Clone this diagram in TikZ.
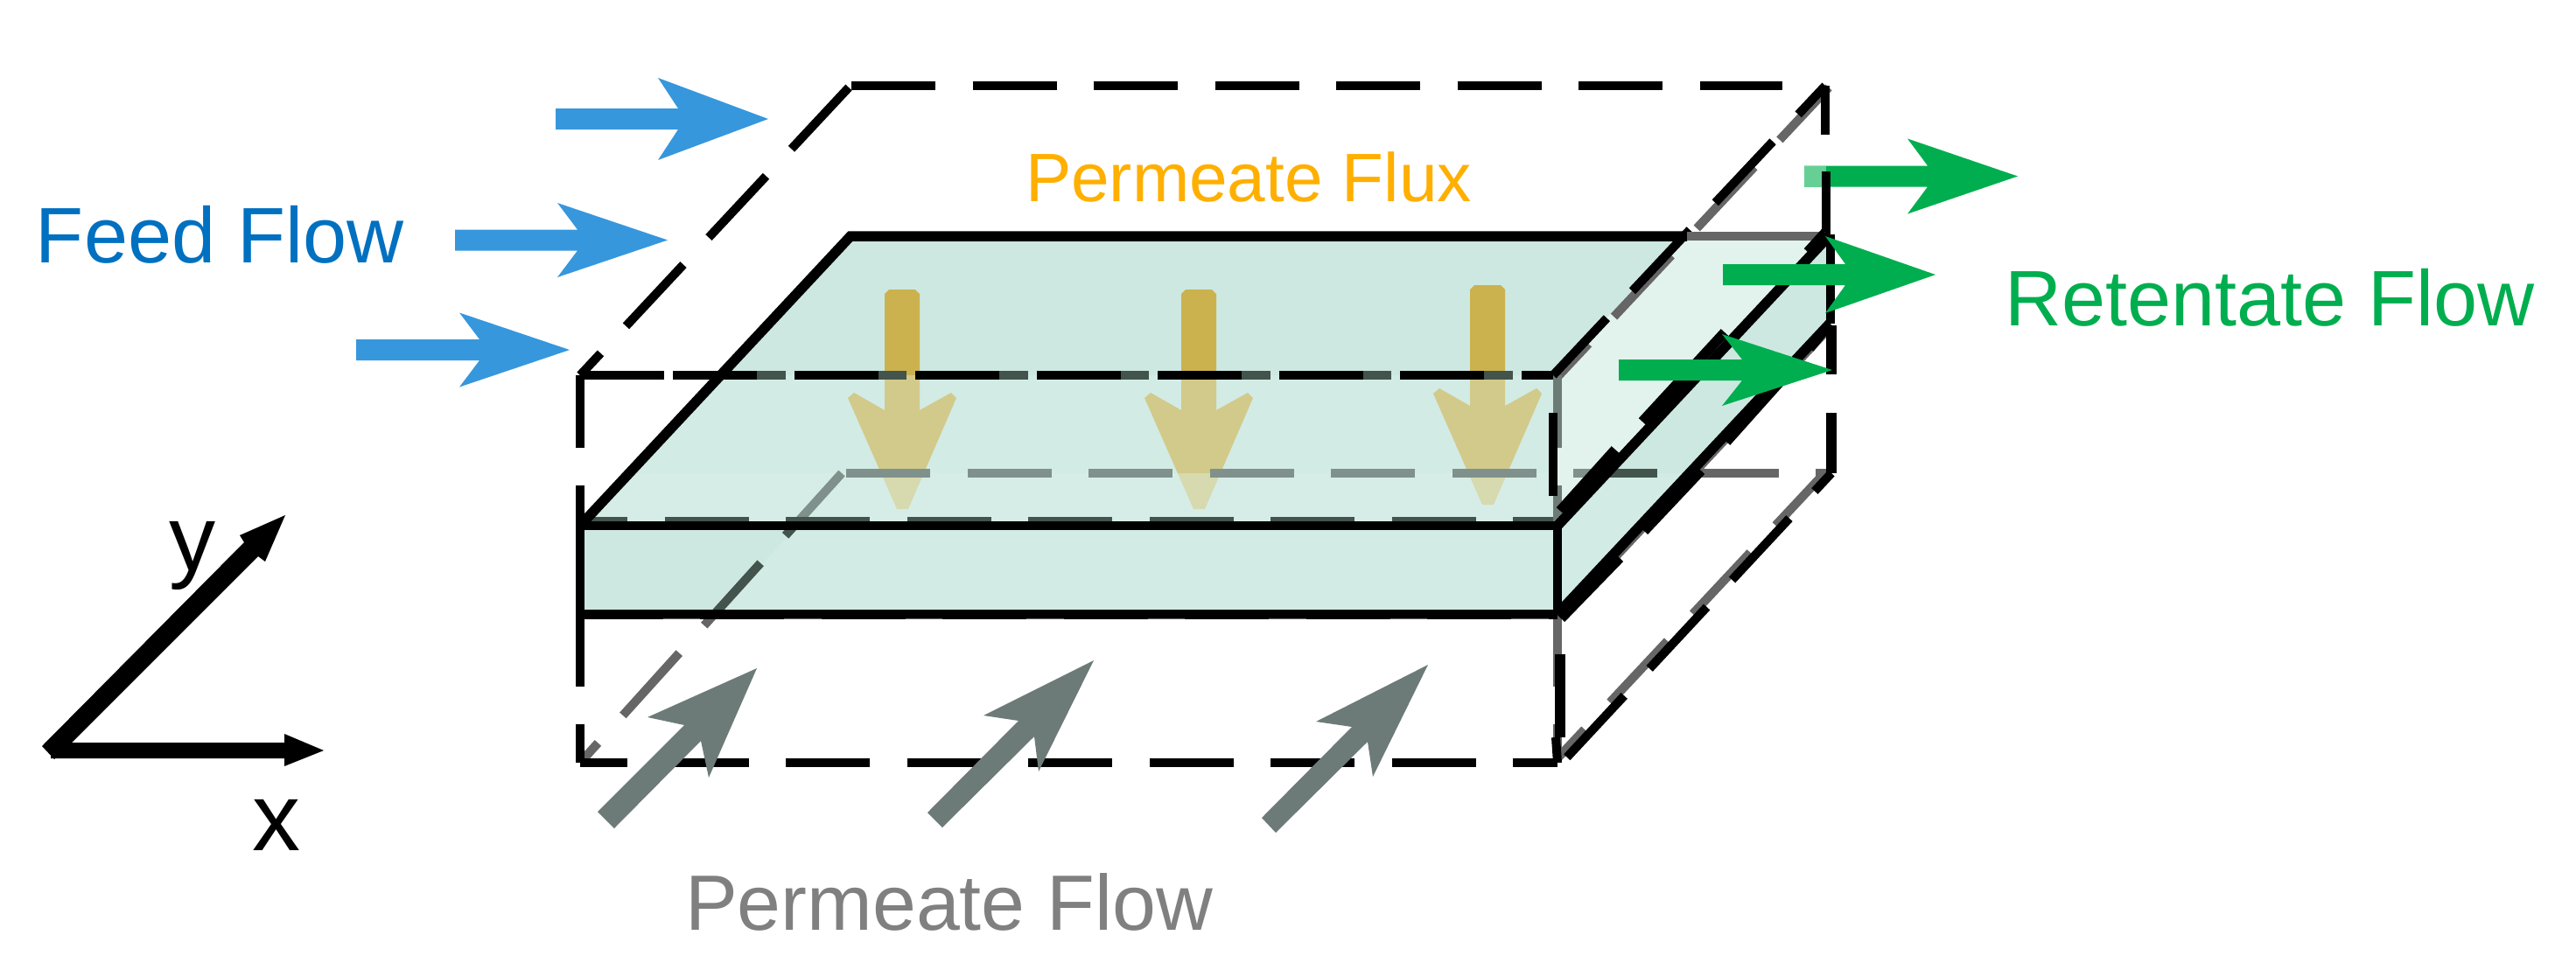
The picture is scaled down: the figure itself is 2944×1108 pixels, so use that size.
\documentclass[tikz,border=0pt]{standalone}
\usepackage{fontspec}
\setmainfont{Liberation Sans}
\newdimen\pxu \pxu=0.28453pt
\definecolor{tealbase}{HTML}{CDE8E1}
\definecolor{tealmid}{HTML}{D2EBE5}
\definecolor{teallow}{HTML}{D6EDE7}
\definecolor{teallight}{HTML}{E2F3ED}
\definecolor{bluearrow}{HTML}{3797DC}
\definecolor{greenarrow}{HTML}{00AE4F}
\definecolor{greenpale}{HTML}{66CF95}
\definecolor{greyarrow}{HTML}{6D7B78}
\definecolor{backgrey}{HTML}{666666}
\definecolor{backmid}{HTML}{80918B}
\definecolor{backdark}{HTML}{43544D}
\definecolor{fluxa}{HTML}{CBB24E}
\definecolor{fluxb}{HTML}{D2CA8A}
\definecolor{fluxc}{HTML}{D7D9AE}
\tikzset{
  edgeline/.style={line width=10\pxu},
  boldline/.style={line width=11.5\pxu},
  dashline/.style={line width=10\pxu,dash pattern=on 96\pxu off 42.45\pxu,dash phase=#1\pxu},
  labeltext/.style={anchor=base west,inner sep=0pt,outer sep=0pt},
}
\newcommand{\hflow}[5]{\fill[#5] (#1,{#2-12}) -- ({#3-103},{#2-12}) -- ({#3-126},{#2-#4}) -- (#3,#2) -- ({#3-126},{#2+#4}) -- ({#3-103},{#2+12}) -- (#1,{#2+12}) -- cycle;}
\newcommand{\fluxband}[5]{\begin{scope}\clip (900,#3) rectangle (1800,#4);
  \fill[#5,shift={(#1,#2)}] (-20,336) -- (-15,331) -- (15,331) -- (20,336) -- (20,469) -- (56,449) -- (62,455) -- (7,582) -- (-6,582) -- (-62,455) -- (-55,449) -- (-20,469) -- cycle;
  \end{scope}}
\newcommand{\fluxarrow}[2]{\fluxband{#1}{#2}{300}{429}{fluxa}\fluxband{#1}{#2}{429}{541}{fluxb}\fluxband{#1}{#2}{541}{620}{fluxc}}
\begin{document}
\begin{tikzpicture}[x=0.01cm,y=-0.01cm]
\useasboundingbox (0,0) rectangle (2944,1108);
% corners of the membrane
\coordinate (mbl) at (972,270);
\coordinate (mbr) at (2090,270);
\coordinate (mfl) at (663,601);
\coordinate (mfr) at (1780,601);
\coordinate (lfl) at (663,702);
\coordinate (lfr) at (1780,702);
\coordinate (lbr) at (2091,370);
% corners of the dashed box
\coordinate (tbl) at (972,98);
\coordinate (tbr) at (2086,98);
\coordinate (tfl) at (663,429);
\coordinate (tfr) at (1775,429);
\coordinate (bfl) at (663,872);
\coordinate (bfr) at (1780,872);
\coordinate (bbr) at (2093,541);
\coordinate (bbl) at (962,541);
% membrane fills
\fill[tealbase] (mbl) -- (mbr) -- (mfr) -- (mfl) -- cycle;
\fill[tealmid] (824,429) -- (tfr) -- (1775,541) -- (719,541) -- cycle;
\fill[teallow] (719,541) -- (1775,541) -- (1775,601) -- (mfl) -- cycle;
\fill[teallight] (tfr) -- (1924,270) -- (mbr) -- (mfr) -- cycle;
\fill[tealbase] (mfr) -- (mbr) -- (lbr) -- (lfr) -- cycle;
\fill[tealmid] (1836,541) -- (1930,541) -- (lfr) -- (mfr) -- cycle;
\fill[tealmid] (912,601) -- (mfr) -- (lfr) -- (819,702) -- cycle;
\fill[tealbase] (mfl) -- (912,601) -- (819,702) -- (lfl) -- cycle;
% permeate flux arrows
\fluxarrow{1031}{0}
\fluxarrow{1370}{0}
\fluxarrow{1700}{-5}
% retentate arrow behind the box
\hflow{2062}{201.5}{2306}{43}{greenarrow}
\fill[greenpale] (2062,189.5) rectangle (2087,213.5);
% back dashed lines
\begin{scope}\clip (900,500) rectangle (1834,600);
\draw[dashline=0,backmid] (967,541) -- (bbr);\end{scope}
\begin{scope}\clip (1834,500) rectangle (1930,600);
\draw[dashline=0,backdark] (967,541) -- (bbr);\end{scope}
\begin{scope}\clip (1930,500) rectangle (2100,600);
\draw[dashline=0,backgrey] (967,541) -- (bbr);\end{scope}
\begin{scope}\clip (600,500) rectangle (1000,600);
\draw[dashline=0,backmid] (bbl) -- (bfl);\end{scope}
\begin{scope}\clip (600,600) rectangle (1000,704);
\draw[dashline=0,backdark] (bbl) -- (bfl);\end{scope}
\begin{scope}\clip (600,704) rectangle (1000,900);
\draw[dashline=0,backgrey] (bbl) -- (bfl);\end{scope}
% grey companions of the right-hand dashes
\draw[dashline=14,backgrey] (2090,100) -- (1779,432);
\draw[dashline=13,backgrey] (2086,540) -- (1780,867);
\begin{scope}\clip (1700,429) rectangle (1800,601);
\draw[dashline=13,backmid!85!black] (1780,429) -- (1780,702);\end{scope}
\draw[dashline=13,backgrey] (1780,702) -- (bfr);
\draw[line width=9\pxu,backgrey] (2094,372) -- (1784,704);
\draw[line width=9\pxu,backgrey] (663,703) -- (1780,703);
% dashed line just above the front edge
\draw[dashline=52,backdark] (673,596) -- (1775,596);
% y=429 double dashes
\draw[dashline=0,black] (tfl) -- (824,429);
\begin{scope}\clip (824,420) rectangle (1776,440);
\draw[dashline=0,backdark] (tfl) -- (tfr);\end{scope}
\draw[dashline=0,black] (769,429) -- (tfr);
% top and side dashes of the box
\draw[dashline=0,black] (973,98) -- (2037,98);
\draw[dashline=0,black] (970,100) -- (tfl);
\draw[dashline=13,black] (tfl) -- (663,702);
\draw[dashline=13,black] (663,702) -- (bfl);
\draw[dashline=51,black] (tbr) -- (tfr);
\draw[dashline=42,black] (bfl) -- (bfr);
\draw[edgeline] (2086,98) -- (2086,154);
\draw[edgeline] (2087,196) -- (2087,270);
\draw[edgeline] (1775,472) -- (1775,567);
\draw[boldline] (1783,748) -- (1783,843);
\draw[edgeline] (1778,843) -- (bfr);
\draw[boldline,line join=miter] (2093,372) -- (2093,428);
\draw[boldline] (2093,472) -- (bbr);
\draw[dashline=68,black,line width=10\pxu] (bbr) -- (1785,872);
% membrane outline
\draw[boldline,line join=miter] (mfl) -- (mbl) -- (1928,270);
\draw[edgeline,backgrey] (1928,270) -- (2086,270);
\draw[edgeline] (mfl) -- (mfr);
\draw[edgeline] (663,597) -- (lfl);
\draw[edgeline] (lfl) -- (lfr);
\draw[edgeline] (mfr) -- (lfr);
\draw[edgeline] (2092,268) -- (2092,370);
\draw[boldline] (mfr) -- (mbr);
\draw[boldline] (lfr) -- (lbr);
\draw[dashline=1.5,black] (663,703) -- (1780,703);
% thick doubled pieces on the membrane's right edges
\draw[boldline] (2086,266) -- (2066,288);
\draw[boldline] (1971,380) -- (1877,482);
\draw[boldline] (1846,514) -- (1783,584);
\draw[boldline] (2086,376) -- (2068,398);
\draw[boldline] (2040,430) -- (1973,505);
\draw[boldline] (1944,538) -- (1879,607);
\draw[boldline] (1851,638) -- (1784,707);
% feed and retentate arrows
\hflow{635}{136}{878}{47}{bluearrow}
\hflow{520}{274.5}{763}{42.5}{bluearrow}
\hflow{407}{400}{651}{42.5}{bluearrow}
\hflow{1969}{314}{2212}{44}{greenarrow}
\hflow{1850}{423}{2094}{41}{greenarrow}
% permeate flow arrows
\fill[greyarrow] (683,928) -- (782,829) -- (740,820) -- (865,764) -- (810,889) -- (801,847) -- (702,947) -- cycle;
\fill[greyarrow] (1060,929) -- (1164,824) -- (1124,818) -- (1250,755) -- (1187,882) -- (1182,842) -- (1077,946) -- cycle;
\fill[greyarrow] (1442,935) -- (1545,831) -- (1504,825) -- (1632,760) -- (1569,888) -- (1563,848) -- (1458,952) -- cycle;
% axes
\fill[black] (48,853) -- (279,620) -- (274,612) -- (326,589) -- (303,642) -- (295,636) -- (82,849) -- (62,868) -- cycle;
\fill[black] (58,849) -- (325,849) -- (325,839) -- (370,858) -- (325,876) -- (325,867) -- (58,867) -- cycle;
% labels
\node[labeltext,text=black] (ylabel) at (193,652) {\fontsize{30.2}{36}\selectfont y};
\node[labeltext,text=black] (xlabel) at (288,972) {\fontsize{31.3}{37}\selectfont x};
\node[labeltext,text={rgb,255:red,0;green,112;blue,192}] (feed) at (41,300) {\fontsize{25.6}{30}\selectfont Feed Flow};
\node[labeltext,text={rgb,255:red,255;green,175;blue,0}] (flux) at (1172,230) {\fontsize{22.3}{27}\selectfont Permeate Flux};
\node[labeltext,text=greenarrow] (ret) at (2291,372) {\fontsize{25.6}{30}\selectfont Retentate Flow};
\node[labeltext,text={rgb,255:red,128;green,128;blue,128}] (perm) at (783,1063) {\fontsize{25.5}{31}\selectfont Permeate Flow};
\end{tikzpicture}
\end{document}
